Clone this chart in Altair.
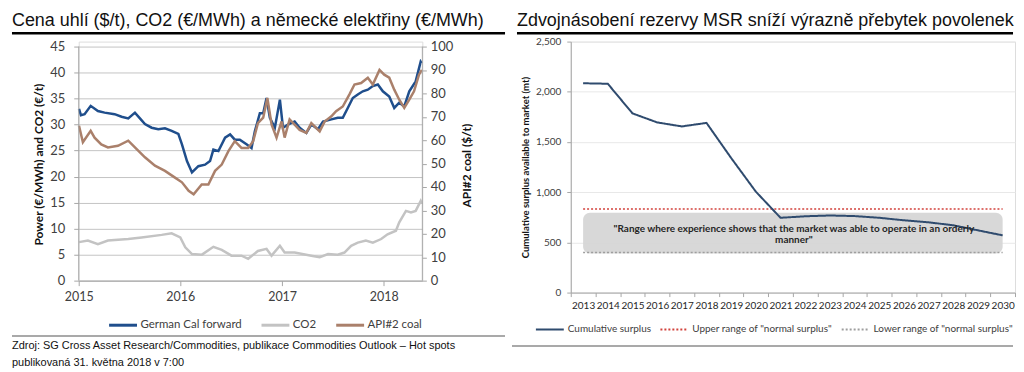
import altair as alt
import pandas as pd

# ---------------- left panel data ----------------
left_title = "Cena uhlí ($/t), CO2 (€/MWh) a německé elektřiny (€/MWh)"
series_names = ["German Cal forward", "CO2", "API#2 coal"]
series_colors = ["#1f4e8c", "#c3c3c3", "#aa806b"]

german_dates = [
    "2015-01-02", "2015-01-09", "2015-01-22", "2015-02-13", "2015-03-11", "2015-04-04",
    "2015-05-10", "2015-06-04", "2015-06-28", "2015-07-22", "2015-08-09", "2015-08-27",
    "2015-09-20", "2015-10-14", "2015-11-07", "2015-12-01", "2015-12-25", "2016-01-07",
    "2016-01-25", "2016-02-12", "2016-03-06", "2016-03-30", "2016-04-17", "2016-04-29",
    "2016-05-17", "2016-06-10", "2016-06-28", "2016-07-15", "2016-08-02", "2016-08-26",
    "2016-09-13", "2016-09-25", "2016-10-13", "2016-10-25", "2016-11-06", "2016-11-18",
    "2016-12-06", "2016-12-24", "2017-01-04", "2017-01-22", "2017-02-15", "2017-03-05",
    "2017-03-29", "2017-04-16", "2017-05-10", "2017-05-28", "2017-06-27", "2017-07-20",
    "2017-08-07", "2017-08-25", "2017-09-12", "2017-09-30", "2017-10-18", "2017-11-05",
    "2017-11-23", "2017-12-11", "2017-12-29", "2018-01-21", "2018-02-08", "2018-02-26",
    "2018-03-16", "2018-04-03", "2018-04-26", "2018-05-14", "2018-05-18",
]
german_values = [
    33.0, 31.8, 32.0, 33.6, 32.6, 32.3,
    32.0, 31.5, 31.2, 32.3, 31.2, 30.1,
    29.4, 29.1, 29.3, 28.8, 28.2, 26.2,
    23.0, 20.8, 22.0, 22.3, 23.0, 25.2,
    24.9, 27.5, 28.1, 27.1, 27.1, 26.2,
    25.5, 28.7, 32.2, 32.2, 35.1, 31.3,
    29.4, 34.8, 29.4, 30.0, 30.6, 29.4,
    28.4, 30.0, 29.1, 30.6, 31.0, 31.3,
    31.3, 33.2, 35.1, 35.8, 36.4, 36.7,
    37.4, 37.7, 36.4, 35.4, 33.2, 34.2,
    33.5, 36.4, 38.3, 42.1, 41.8,
]

co2_dates = [
    "2015-01-02", "2015-02-03", "2015-03-11", "2015-04-16", "2015-06-28", "2015-08-15",
    "2015-10-26", "2015-12-01", "2016-01-01", "2016-01-19", "2016-02-12", "2016-03-19",
    "2016-04-29", "2016-05-29", "2016-07-03", "2016-08-08", "2016-09-01", "2016-10-06",
    "2016-11-06", "2016-11-24", "2016-12-24", "2017-01-10", "2017-02-15", "2017-04-16",
    "2017-05-16", "2017-06-15", "2017-07-20", "2017-08-13", "2017-09-06", "2017-09-30",
    "2017-10-29", "2017-11-23", "2017-12-23", "2018-01-15", "2018-02-14", "2018-02-26",
    "2018-03-22", "2018-04-09", "2018-04-26", "2018-05-14", "2018-05-18",
]
co2_values = [
    7.4, 7.7, 7.0, 7.7, 8.0, 8.3,
    8.8, 9.1, 8.3, 6.4, 5.1, 5.0,
    6.5, 5.9, 4.8, 4.8, 4.2, 5.7,
    6.1, 4.8, 6.7, 5.4, 5.4, 4.8,
    4.5, 5.1, 5.0, 5.4, 6.7, 7.3,
    7.7, 7.3, 8.0, 8.9, 9.6, 11.2,
    13.4, 13.1, 13.4, 15.3, 14.8,
]

coal_dates = [
    "2015-01-02", "2015-01-16", "2015-02-13", "2015-02-27", "2015-03-23", "2015-04-16",
    "2015-05-22", "2015-06-28", "2015-07-22", "2015-08-27", "2015-10-02", "2015-11-07",
    "2015-12-13", "2016-01-07", "2016-01-31", "2016-02-18", "2016-03-18", "2016-04-11",
    "2016-05-05", "2016-05-29", "2016-06-22", "2016-07-15", "2016-08-08", "2016-09-01",
    "2016-09-19", "2016-10-06", "2016-10-25", "2016-11-09", "2016-11-24", "2016-12-12",
    "2016-12-30", "2017-01-10", "2017-01-28", "2017-02-15", "2017-03-05", "2017-03-29",
    "2017-04-16", "2017-05-16", "2017-06-03", "2017-06-27", "2017-07-14", "2017-08-07",
    "2017-08-31", "2017-09-18", "2017-10-12", "2017-11-05", "2017-11-23", "2017-12-17",
    "2018-01-03", "2018-01-21", "2018-02-08", "2018-02-26", "2018-03-16", "2018-04-03",
    "2018-04-20", "2018-05-08", "2018-05-18",
]
coal_values = [
    66.2, 59.1, 64.0, 61.1, 58.2, 56.9,
    57.6, 59.8, 56.9, 52.7, 49.1, 46.9,
    44.0, 42.0, 38.4, 36.9, 41.1, 41.1,
    46.9, 49.6, 55.3, 59.6, 56.7, 56.7,
    59.6, 67.3, 69.6, 78.0, 66.7, 61.1,
    68.0, 61.1, 68.9, 66.7, 64.4, 63.1,
    67.3, 63.8, 68.0, 70.2, 72.4, 74.4,
    79.6, 83.8, 84.4, 86.7, 83.8, 90.0,
    88.0, 86.7, 81.6, 77.3, 73.8, 77.3,
    80.9, 88.0, 90.0,
]

left_ticks = [0, 5, 10, 15, 20, 25, 30, 35, 40, 45]
right_ticks = [0, 10, 20, 30, 40, 50, 60, 70, 80, 90, 100]
year_ticks = [2015, 2016, 2017, 2018]
left_axis_title = "Power (€/MWh) and CO2 (€/t)"
right_axis_title = "API#2 coal ($/t)"
source_lines = [
    "Zdroj: SG Cross Asset Research/Commodities, publikace Commodities Outlook – Hot spots",
    "publikovaná 31. května 2018 v 7:00",
]

# ---------------- right panel data ----------------
right_title = "Zdvojnásobení rezervy MSR sníží výrazně přebytek povolenek"
msr_years = list(range(2013, 2031))
msr_surplus = [2085, 2080, 1785, 1695, 1655, 1690, 1340, 1005, 745,
               760, 768, 762, 745, 720, 700, 670, 620, 570]
msr_names = ["Cumulative surplus", 'Upper range of "normal surplus"', 'Lower range of "normal surplus"']
msr_colors = ["#2f4b6e", "#d2423c", "#9e9e9e"]
upper_level = 833
lower_level = 400
band_low, band_high = 390, 795
msr_ticks = [0, 500, 1000, 1500, 2000, 2500]
msr_axis_title = "Cumulative surplus available to market (mt)"
band_text = ['"Range where experience shows that the market was able to operate in an orderly',
             'manner"']

FONT = "Lato"
TFONT = "Liberation Sans"

# ---------------- left panel ----------------
W1, H = 345, 240
LTOP = 45 * H / 235
RTOP = 100 * H / 235

left_df = pd.DataFrame({
    "date": german_dates + co2_dates,
    "value": german_values + co2_values,
    "series": [series_names[0]] * len(german_dates) + [series_names[1]] * len(co2_dates),
})
coal_df = pd.DataFrame({"date": coal_dates, "value": coal_values,
                        "series": [series_names[2]] * len(coal_dates)})

left_legend = alt.Legend(title=None, orient="none", legendX=29, legendY=269,
                         direction="horizontal", symbolType="stroke", symbolSize=784,
                         symbolStrokeWidth=3, labelFont=FONT, labelFontSize=11.5,
                         labelColor="#404040", labelOffset=2, columnPadding=13, padding=0)
color_l = alt.Color("series:N", scale=alt.Scale(domain=series_names, range=series_colors),
                    legend=left_legend)

x_l = alt.X("date:T",
            scale=alt.Scale(domain=[alt.DateTime(year=2015, month=1, date=1),
                                    alt.DateTime(year=2018, month=5, date=20)], nice=False),
            axis=alt.Axis(values=[alt.DateTime(year=y, month=1, date=1) for y in year_ticks],
                          format="%Y", title=None, grid=False, domainColor="#a6a6a6",
                          tickColor="#a6a6a6", tickSize=5, labelPadding=5, labelFont=FONT,
                          labelFontSize=12.5, labelColor="#404040", labelFlush=False))

lines_left = alt.Chart(left_df).mark_line(strokeWidth=2.5).encode(
    x=x_l,
    y=alt.Y("value:Q", scale=alt.Scale(domain=[0, LTOP], nice=False),
            axis=alt.Axis(orient="left", values=left_ticks, grid=True, gridColor="#c4c4c4",
                          domain=False, tickColor="#a6a6a6", tickSize=5, labelPadding=9,
                          labelFont=FONT, labelFontSize=13, labelColor="#404040",
                          title=left_axis_title, titleFont=FONT, titleFontSize=12,
                          titleFontWeight="bold", titleColor="#111111", titleX=-40, titleY=123,
                          titleAngle=270, titleAlign="center", titleBaseline="middle")),
    color=color_l,
    detail="series:N",
)
lines_right = alt.Chart(coal_df).mark_line(strokeWidth=2.5).encode(
    x=x_l,
    y=alt.Y("value:Q", scale=alt.Scale(domain=[0, RTOP], nice=False),
            axis=alt.Axis(orient="right", values=right_ticks, grid=False, domain=False,
                          tickColor="#a6a6a6", tickSize=4, labelPadding=4, labelFont=FONT,
                          labelFontSize=13, labelColor="#404040",
                          title=right_axis_title, titleFont=FONT, titleFontSize=12,
                          titleFontWeight="bold", titleColor="#111111", titleX=44, titleY=124,
                          titleAngle=270, titleAlign="center", titleBaseline="middle")),
    color=color_l,
)

one = pd.DataFrame({"k": [0]})
axis_lines_left = alt.layer(
    alt.Chart(one).mark_rule(color="#a6a6a6").encode(x=alt.value(0), y=alt.value(5), y2=alt.value(H)),
    alt.Chart(one).mark_rule(color="#a6a6a6").encode(x=alt.value(W1), y=alt.value(5), y2=alt.value(H)),
)
deco_left = alt.layer(
    alt.Chart(one).mark_text(text=left_title, font=TFONT, fontSize=18, align="left",
                             baseline="alphabetic", color="#111111").encode(
        x=alt.value(-67), y=alt.value(-16)),
    alt.Chart(one).mark_rule(color="#000000", strokeWidth=2.5).encode(
        x=alt.value(-67), x2=alt.value(428), y=alt.value(-8.3)),
    alt.Chart(one).mark_rule(color="#8c8c8c", strokeWidth=1.5).encode(
        x=alt.value(-67), x2=alt.value(428), y=alt.value(295.7)),
    alt.Chart(one).mark_text(text=source_lines[0], font=TFONT, fontSize=11, align="left",
                             baseline="middle", color="#111111").encode(
        x=alt.value(-67), y=alt.value(306)),
    alt.Chart(one).mark_text(text=source_lines[1], font=TFONT, fontSize=11, align="left",
                             baseline="middle", color="#111111").encode(
        x=alt.value(-67), y=alt.value(323)),
)

left_chart = alt.layer(lines_left, lines_right, axis_lines_left, deco_left).resolve_scale(
    y="independent").properties(width=W1, height=H)

# ---------------- right panel ----------------
W2, H2 = 446, 252
msr_df = pd.DataFrame({"year": msr_years, "value": msr_surplus,
                       "scenario": [msr_names[0]] * len(msr_years)})
range_df = pd.DataFrame({
    "year": [msr_years[0], msr_years[-1], msr_years[0], msr_years[-1]],
    "value": [upper_level, upper_level, lower_level, lower_level],
    "scenario": [msr_names[1], msr_names[1], msr_names[2], msr_names[2]],
})
band_df = pd.DataFrame({"year": [msr_years[0]], "year2": [msr_years[-1]],
                        "value": [band_low], "value2": [band_high]})

right_legend = alt.Legend(title=None, orient="none", legendX=-36, legendY=274,
                          direction="horizontal", symbolType="stroke", symbolSize=784,
                          symbolStrokeWidth=2, labelFont=FONT, labelFontSize=10,
                          labelColor="#404040", labelOffset=3, columnPadding=5, padding=0)
color_r = alt.Color("scenario:N", scale=alt.Scale(domain=msr_names, range=msr_colors),
                    legend=right_legend)
dash_r = alt.StrokeDash("scenario:N", scale=alt.Scale(domain=msr_names,
                                                      range=[[1, 0], [2, 2], [2, 2]]),
                        legend=right_legend)

x_scale_r = alt.Scale(type="band", paddingInner=0, paddingOuter=0)
x_axis_r = alt.Axis(labelAngle=0, tickBand="extent", title=None, grid=False,
                    domainColor="#a6a6a6", tickColor="#a6a6a6", tickSize=4,
                    labelPadding=4, labelFont=FONT, labelFontSize=10,
                    labelColor="#262626")
y_scale_r = alt.Scale(domain=[0, 2500], nice=False)
y_axis_r = alt.Axis(values=msr_ticks, format=",.0f", grid=True, gridColor="#e8e8e8",
                    domainColor="#a6a6a6", tickColor="#a6a6a6", tickSize=4,
                    labelPadding=6, labelFont=FONT, labelFontSize=10,
                    labelColor="#404040", title=msr_axis_title, titleFont=FONT,
                    titleFontSize=9.5, titleFontWeight="bold", titleColor="#111111",
                    titleX=-45, titleY=126, titleAngle=270, titleAlign="center",
                    titleBaseline="middle")
x_r = alt.X("year:O", scale=x_scale_r, axis=x_axis_r)
y_r = alt.Y("value:Q", scale=y_scale_r, axis=y_axis_r)

band_rect = alt.Chart(band_df).mark_rect(color="#d4d4d4", opacity=0.9, cornerRadius=7).encode(
    x=alt.X("year:O", bandPosition=0.5, scale=x_scale_r, axis=x_axis_r),
    x2=alt.X2("year2", bandPosition=0.5),
    y=alt.Y("value:Q", scale=y_scale_r, axis=y_axis_r),
    y2="value2:Q")
range_lines = alt.Chart(range_df).mark_line(strokeWidth=1.5).encode(
    x=x_r, y=y_r, color=color_r, strokeDash=dash_r)
surplus_line = alt.Chart(msr_df).mark_line(strokeWidth=2).encode(
    x=x_r, y=y_r, color=color_r, strokeDash=dash_r)
band_label = alt.Chart(one).mark_text(font=FONT, fontWeight="bold", fontSize=10, lineHeight=11.5,
                                      align="center", baseline="middle", color="#262626").encode(
    x=alt.value(224), y=alt.value(188), text=alt.value(band_text))

deco_right = alt.layer(
    alt.Chart(one).mark_text(text=right_title, font=TFONT, fontSize=18, align="left",
                             baseline="alphabetic", color="#111111").encode(
        x=alt.value(-54), y=alt.value(-16)),
    alt.Chart(one).mark_rule(color="#000000", strokeWidth=2.5).encode(
        x=alt.value(-54), x2=alt.value(444), y=alt.value(-8.3)),
    alt.Chart(one).mark_rule(color="#8c8c8c", strokeWidth=1.5).encode(
        x=alt.value(-59), x2=alt.value(444), y=alt.value(305.7)),
)

right_chart = alt.layer(band_rect, range_lines, surplus_line, band_label, deco_right).properties(
    width=W2, height=H2)

chart = alt.hconcat(left_chart, right_chart, spacing=149, bounds="flush").resolve_scale(
    color="independent", strokeDash="independent"
).resolve_legend(color="independent", strokeDash="independent").properties(
    padding={"left": 2, "top": 2, "right": 0, "bottom": 0}
).configure_view(stroke=None).configure(font=FONT, background="white")

chart.save("out.html", embed_options={"renderer": "svg", "actions": False})
